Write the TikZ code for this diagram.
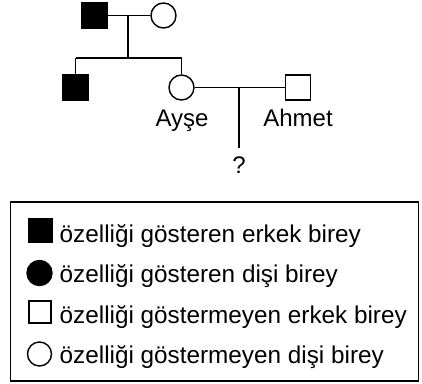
\documentclass[tikz,border=0pt]{standalone}
\usepackage{fontspec}
\setmainfont{Liberation Sans}
\begin{document}
\begin{tikzpicture}[x=1pt,y=-1pt,line width=1.4pt,
  male/.style={draw,rectangle,minimum size=25pt,inner sep=0pt},
  female/.style={draw,circle,minimum size=25pt,inner sep=0pt},
  aff/.style={fill=black},
  lbl/.style={anchor=base,inner sep=0pt,font=\fontsize{24}{28}\selectfont},
  legtxt/.style={anchor=base west,inner sep=0pt,font=\fontsize{24.3}{28}\selectfont}]
\useasboundingbox (0,0) rectangle (422,383);
% generation I
\node[male,aff] (f) at (94.5,15.5) {};
\node[female] (m) at (163.5,15.5) {};
\draw (f.east) -- (m.west);
\coordinate (c1) at (128,15.5);
\coordinate (sib) at (128,58);
\draw (c1) -- (sib);
% generation II
\node[male,aff] (son) at (75.5,87.5) {};
\node[female] (ay) at (181.5,87.5) {};
\node[male] (ah) at (298,87.5) {};
\coordinate (sl) at (75.5,58);
\coordinate (sr) at (181.5,58);
\draw (sl) -- (sr);
\draw (son.north) -- (sl);
\draw (ay.north) -- (sr);
\draw (ay.east) -- (ah.west);
\coordinate (c2) at (239,87.5);
\coordinate (q) at (239,148);
\draw (c2) -- (q);
\node[lbl] (ayl) at (182,126.5) {Ayşe};
\node[lbl] (ahl) at (298,126.5) {Ahmet};
\node[lbl] (ql) at (239,173) {?};
% legend
\node[draw,rectangle,minimum width=408pt,minimum height=179pt,inner sep=0pt] (leg) at (214.5,291.5) {};
\node[male,aff,minimum size=24pt] (l1) at (40.5,230.5) {};
\node[female,aff,minimum size=25pt] (l2) at (39.5,273) {};
\node[male,minimum size=22pt] (l3) at (40,312) {};
\node[female,minimum size=24pt] (l4) at (39.5,354) {};
\node[legtxt] (t1) at (59,242) {özelliği gösteren erkek birey};
\node[legtxt] (t2) at (59,282.5) {özelliği gösteren dişi birey};
\node[legtxt] (t3) at (59,323) {özelliği göstermeyen erkek birey};
\node[legtxt] (t4) at (59,363.5) {özelliği göstermeyen dişi birey};
\end{tikzpicture}
\end{document}
